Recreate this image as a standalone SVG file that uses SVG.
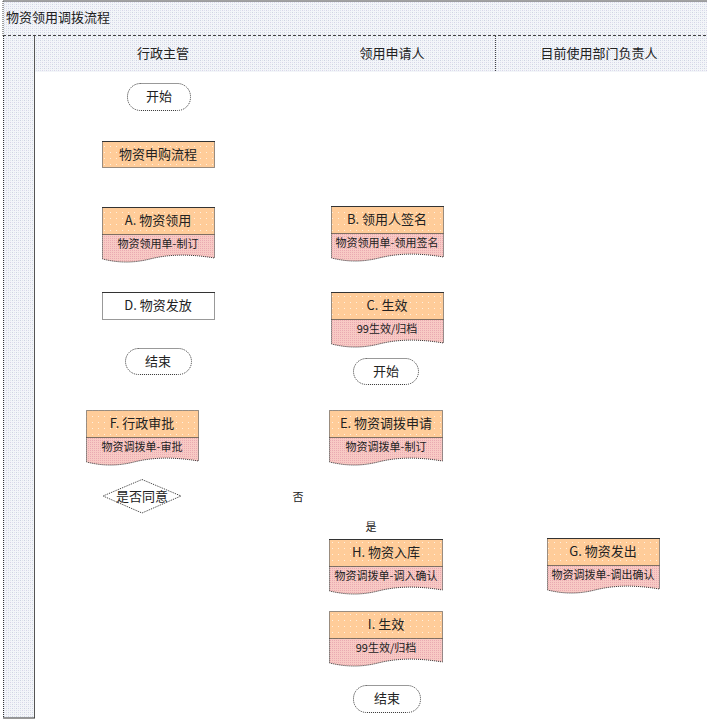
<svg xmlns="http://www.w3.org/2000/svg" width="707" height="721" viewBox="0 0 707 721">
<style>
text{font-family:"Noto Sans CJK SC","Liberation Sans",sans-serif;fill:#222;}
.hd{font-size:13px;text-anchor:middle;}
.t{font-size:13px;text-anchor:middle;}
.d{font-size:11px;text-anchor:middle;}
.box{stroke:#333;stroke-width:1;stroke-dasharray:1 1;}
.top{stroke:#333;stroke-width:1;}
.term{fill:#fff;stroke:#333;stroke-width:1;stroke-dasharray:1 1;}
</style>
<defs>
<pattern id="bg" width="4" height="4" patternUnits="userSpaceOnUse">
<rect width="4" height="4" fill="#f3f5f9"/>
<rect x="0" y="0" width="1" height="1" fill="#cdd3e2"/>
<rect x="2" y="2" width="1" height="1" fill="#d8d4e8"/>
<rect x="2" y="0" width="1" height="1" fill="#dfe4ea"/>
<rect x="0" y="2" width="1" height="1" fill="#dce2ec"/>
</pattern>
<pattern id="org" width="6" height="6" patternUnits="userSpaceOnUse">
<rect width="6" height="6" fill="#ffcc99"/>
<rect x="2" y="2" width="1" height="1" fill="#fff0dd"/>
</pattern>
<pattern id="pnk" width="2" height="2" patternUnits="userSpaceOnUse">
<rect width="2" height="2" fill="#f8cac4"/>
<rect x="0" y="0" width="1" height="1" fill="#eaaab2"/>
</pattern>
</defs>
<rect width="707" height="721" fill="#fff"/>
<g id="pool">
<rect x="3" y="1" width="704" height="35" fill="url(#bg)"/>
<line x1="3" y1="1" x2="707" y2="1" stroke="#444"/>
<line x1="3" y1="1" x2="3" y2="36" stroke="#444" stroke-dasharray="1 1"/>
<line x1="3" y1="35.5" x2="707" y2="35.5" stroke="#444" stroke-dasharray="3 2"/>
<text x="6" y="22" style="font-size:13px">物资领用调拨流程</text>
<rect x="3" y="36" width="31" height="682" fill="url(#bg)"/>
<rect x="34" y="36" width="673" height="36" fill="url(#bg)"/>
<line x1="3.5" y1="36" x2="3.5" y2="718" stroke="#333" stroke-dasharray="1 1"/>
<line x1="34.5" y1="36" x2="34.5" y2="718" stroke="#555"/>
<line x1="3" y1="718" x2="35" y2="718" stroke="#333"/>
<line x1="495.5" y1="36" x2="495.5" y2="72" stroke="#444" stroke-dasharray="1 1"/>
<text class="hd" x="163" y="58">行政主管</text>
<text class="hd" x="392" y="58">领用申请人</text>
<text class="hd" x="599" y="58">目前使用部门负责人</text>
</g>
<g id="connectors"></g>
<g id="start1"><rect class="term" x="127.5" y="83.5" width="63" height="27" rx="13"/><text class="t" x="159" y="101">开始</text></g>
<g id="purchase"><rect class="box" x="102.5" y="141.5" width="112" height="26" fill="url(#org)"/><line class="top" x1="102" y1="141.5" x2="215" y2="141.5"/><text class="t" x="158" y="159">物资申购流程</text></g>
<g id="A">
<path class="box" d="M102.5,234.5 H214.5 V258 C190,254 170,254 150,259 C130,264 115,262 102.5,259 Z" fill="url(#pnk)"/>
<rect class="box" x="102.5" y="207.5" width="112" height="27" fill="url(#org)"/><line class="top" x1="102" y1="207.5" x2="215" y2="207.5"/>
<text class="t" x="158" y="225">A. 物资领用</text><text class="d" x="158" y="248">物资领用单-制订</text></g>
<g id="D"><rect class="box" x="102.5" y="292.5" width="112" height="27" fill="#fff"/><line class="top" x1="102" y1="292.5" x2="215" y2="292.5"/><text class="t" x="158" y="310">D. 物资发放</text></g>
<g id="end1"><rect class="term" x="125.5" y="348.5" width="66" height="26" rx="13"/><text class="t" x="158" y="366">结束</text></g>
<g id="F">
<path class="box" d="M86.5,437.5 H198.5 V461 C174,457 154,457 134,462 C114,467 99,465 86.5,462 Z" fill="url(#pnk)"/>
<rect class="box" x="86.5" y="410.5" width="112" height="27" fill="url(#org)"/>
<text class="t" x="142" y="428">F. 行政审批</text><text class="d" x="142" y="451">物资调拨单-审批</text></g>
<g id="decision"><polygon class="box" points="142,479.5 181,496 142,513 103,496" fill="#fff"/><text class="t" x="142" y="501">是否同意</text></g>
<g id="B">
<path class="box" d="M331.5,233.5 H443.5 V257 C419,253 399,253 379,258 C359,263 344,261 331.5,258 Z" fill="url(#pnk)"/>
<rect class="box" x="331.5" y="206.5" width="112" height="27" fill="url(#org)"/><line class="top" x1="331" y1="206.5" x2="444" y2="206.5"/>
<text class="t" x="387" y="224">B. 领用人签名</text><text class="d" x="387" y="247">物资领用单-领用签名</text></g>
<g id="C">
<path class="box" d="M331.5,319.5 H443.5 V343 C419,339 399,339 379,344 C359,349 344,347 331.5,344 Z" fill="url(#pnk)"/>
<rect class="box" x="331.5" y="292.5" width="112" height="27" fill="url(#org)"/><line class="top" x1="331" y1="292.5" x2="444" y2="292.5"/>
<text class="t" x="387" y="310">C. 生效</text><text class="d" x="387" y="333">99生效/归档</text></g>
<g id="start2"><rect class="term" x="353.5" y="358.5" width="65" height="26" rx="13"/><text class="t" x="386" y="376">开始</text></g>
<g id="E">
<path class="box" d="M329.5,437.5 H442.5 V461 C418,457 398,457 378,462 C358,467 343,465 329.5,462 Z" fill="url(#pnk)"/>
<rect class="box" x="329.5" y="410.5" width="113" height="27" fill="url(#org)"/>
<text class="t" x="386" y="428">E. 物资调拨申请</text><text class="d" x="386" y="451">物资调拨单-制订</text></g>
<g id="no"><text class="d" x="298" y="501">否</text></g>
<g id="yes"><text class="d" x="371" y="531">是</text></g>
<g id="H">
<path class="box" d="M329.5,566.5 H442.5 V590 C418,586 398,586 378,591 C358,596 343,594 329.5,591 Z" fill="url(#pnk)"/>
<rect class="box" x="329.5" y="539.5" width="113" height="27" fill="url(#org)"/><line class="top" x1="329" y1="539.5" x2="443" y2="539.5"/>
<text class="t" x="386" y="557">H. 物资入库</text><text class="d" x="386" y="580">物资调拨单-调入确认</text></g>
<g id="G">
<path class="box" d="M547.5,565.5 H659.5 V589 C635,585 615,585 595,590 C575,595 560,593 547.5,590 Z" fill="url(#pnk)"/>
<rect class="box" x="547.5" y="538.5" width="112" height="27" fill="url(#org)"/><line class="top" x1="547" y1="538.5" x2="660" y2="538.5"/>
<text class="t" x="603" y="556">G. 物资发出</text><text class="d" x="603" y="579">物资调拨单-调出确认</text></g>
<g id="I">
<path class="box" d="M329.5,638.5 H442.5 V662 C418,658 398,658 378,663 C358,668 343,666 329.5,663 Z" fill="url(#pnk)"/>
<rect class="box" x="329.5" y="611.5" width="113" height="27" fill="url(#org)"/>
<text class="t" x="386" y="629">I. 生效</text><text class="d" x="386" y="652">99生效/归档</text></g>
<g id="end2"><rect class="term" x="353.5" y="685.5" width="67" height="27" rx="13"/><text class="t" x="387" y="703">结束</text></g>
</svg>
